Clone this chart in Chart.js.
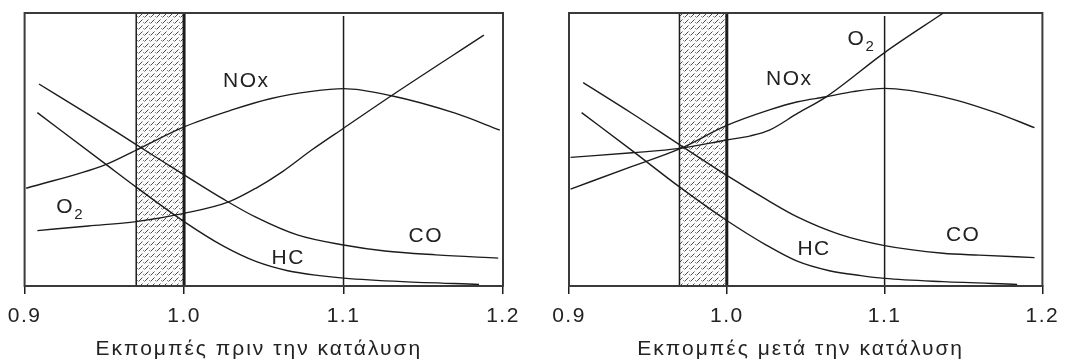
<!DOCTYPE html>
<html>
<head>
<meta charset="utf-8">
<script src="https://cdn.jsdelivr.net/npm/chart.js@4.4.1/dist/chart.umd.min.js"></script>
<style>
  html, body { margin: 0; padding: 0; background: #fff; }
  #wrap { position: relative; width: 1067px; height: 360px; overflow: hidden; }
  canvas { position: absolute; top: 0; }
  #before { left: 0; }
  #after { left: 534px; }
</style>
</head>
<body>
<div id="wrap">
  <canvas id="before" width="533" height="360"></canvas>
  <canvas id="after" width="533" height="360"></canvas>
</div>
<script>
// x axis: lambda
const xTicks = [0.9, 1.0, 1.1, 1.2];
const bandRange = [0.97, 1.0];
const markLine = 1.1;

// emissions before the catalyst
const coBeforeX  = [0.909, 0.940, 0.970, 1.000, 1.025, 1.045, 1.071, 1.100, 1.126, 1.158, 1.197];
const coBeforeY  = [74.0, 62.9, 51.8, 40.7, 31.7, 25.2, 18.7, 15.0, 12.8, 11.4, 10.2];
const hcBeforeX  = [0.908, 0.950, 0.970, 1.000, 1.025, 1.045, 1.065, 1.085, 1.100, 1.137, 1.185];
const hcBeforeY  = [63.5, 45.0, 36.2, 23.6, 14.5, 9.0, 5.6, 3.8, 2.9, 1.6, 0.6];
const noxBeforeX = [0.901, 0.950, 0.970, 1.000, 1.030, 1.054, 1.080, 1.100, 1.130, 1.170, 1.198];
const noxBeforeY = [35.8, 44.3, 49.8, 58.3, 64.5, 68.6, 71.3, 72.3, 69.7, 63.3, 57.1];
const o2BeforeX  = [0.908, 0.940, 0.970, 1.000, 1.028, 1.045, 1.062, 1.080, 1.100, 1.130, 1.188];
const o2BeforeY  = [20.3, 22.0, 23.6, 26.6, 30.8, 35.8, 42.0, 49.8, 57.8, 69.7, 91.9];

// emissions after the catalyst
const coAfterX  = [0.909, 0.940, 0.970, 1.000, 1.025, 1.045, 1.071, 1.100, 1.137, 1.160, 1.195];
const coAfterY  = [74.5, 63.2, 51.8, 40.5, 31.7, 25.2, 19.0, 14.8, 12.0, 11.3, 10.4];
const hcAfterX  = [0.908, 0.940, 0.970, 1.000, 1.025, 1.045, 1.065, 1.085, 1.100, 1.137, 1.184];
const hcAfterY  = [63.5, 49.6, 36.3, 24.0, 15.0, 9.0, 5.6, 3.8, 2.8, 1.6, 0.6];
const noxAfterX = [0.901, 0.940, 0.970, 1.000, 1.027, 1.045, 1.063, 1.080, 1.100, 1.137, 1.169, 1.195];
const noxAfterY = [35.5, 43.8, 50.2, 58.8, 64.5, 67.5, 69.3, 71.2, 72.4, 69.3, 63.8, 58.0];
const o2AfterX  = [0.901, 0.940, 0.970, 1.000, 1.015, 1.027, 1.045, 1.063, 1.100, 1.137];
const o2AfterY  = [47.1, 48.8, 50.4, 53.5, 55.0, 57.1, 63.3, 69.3, 85.5, 99.9];

const FONT = "'Liberation Sans', Arial, sans-serif";
const INK = '#1c1c1c';

function hatchPattern(ctx) {
  const c = document.createElement('canvas');
  c.width = 6; c.height = 6;
  const g = c.getContext('2d');
  g.fillStyle = '#fbfbfb';
  g.fillRect(0, 0, 6, 6);
  g.strokeStyle = '#4c4c4c';
  g.lineWidth = 1;
  g.beginPath();
  g.moveTo(0.5, 5.5); g.lineTo(4.5, 1.5);
  g.stroke();
  g.fillStyle = '#8a8a8a';
  g.fillRect(5, 4, 1, 1);
  return ctx.createPattern(c, 'repeat');
}

// hatched band, 1.1 line, frame, curve labels and axis title
const overlay = {
  id: 'overlay',
  beforeDraw(chart) {
    chart.ctx.letterSpacing = '1.5px';
  },
  beforeDatasetsDraw(chart) {
    const { ctx, chartArea: a, scales: { x } } = chart;
    const x0 = x.getPixelForValue(bandRange[0]);
    const x1 = x.getPixelForValue(bandRange[1]);
    const xm = x.getPixelForValue(markLine);
    ctx.save();
    ctx.fillStyle = hatchPattern(ctx);
    ctx.fillRect(x0, a.top, x1 - x0, a.bottom - a.top);
    ctx.strokeStyle = INK;
    ctx.lineWidth = 1.5;
    ctx.beginPath();
    ctx.moveTo(x0, a.top); ctx.lineTo(x0, a.bottom);
    ctx.moveTo(xm, a.top + 3); ctx.lineTo(xm, a.bottom);
    ctx.stroke();
    ctx.lineWidth = 3;
    ctx.beginPath();
    ctx.moveTo(x1, a.top); ctx.lineTo(x1, a.bottom);
    ctx.stroke();
    ctx.strokeStyle = '#3a3a3a';
    ctx.lineWidth = 2;
    ctx.strokeRect(a.left, a.top, a.right - a.left, a.bottom - a.top);
    ctx.restore();
  },
  afterDatasetsDraw(chart, args, opts) {
    const { ctx, scales: { x, y } } = chart;
    ctx.save();
    ctx.fillStyle = '#222';
    ctx.textAlign = 'center';
    ctx.textBaseline = 'middle';
    (opts.labels || []).forEach(l => {
      const px = x.getPixelForValue(l.x), py = y.getPixelForValue(l.y);
      ctx.font = '21px ' + FONT;
      ctx.fillText(l.text, px, py);
      if (l.sub) {
        const w = ctx.measureText(l.text).width;
        ctx.font = '15px ' + FONT;
        ctx.textAlign = 'left';
        ctx.fillText(l.sub, px + w / 2, py + 8);
        ctx.textAlign = 'center';
      }
    });
    ctx.restore();
  },
  afterDraw(chart, args, opts) {
    const { ctx, chartArea: a } = chart;
    ctx.save();
    ctx.letterSpacing = '2px';
    ctx.font = '21px ' + FONT;
    ctx.fillStyle = '#222';
    ctx.textAlign = 'center';
    ctx.textBaseline = 'alphabetic';
    ctx.fillText(opts.title, (a.left + a.right) / 2 - 5, 355);
    ctx.restore();
  }
};

function series(xs, ys) {
  return {
    data: xs.map((v, i) => ({ x: v, y: ys[i] })),
    borderColor: INK,
    borderWidth: 1.4,
    pointRadius: 0,
    fill: false,
    cubicInterpolationMode: 'monotone'
  };
}

function makeChart(id, datasets, labels, title, padLeft, padRight) {
  return new Chart(document.getElementById(id), {
    type: 'line',
    data: { datasets },
    options: {
      responsive: false,
      animation: false,
      devicePixelRatio: 1,
      layout: { padding: { left: padLeft, right: padRight, top: 13, bottom: 0 } },
      plugins: {
        legend: { display: false },
        tooltip: { enabled: false },
        overlay: { labels, title }
      },
      scales: {
        x: {
          type: 'linear',
          min: 0.9,
          max: 1.2,
          afterBuildTicks: s => { s.ticks = xTicks.map(v => ({ value: v })); },
          afterFit: s => { s.height = 74; },
          grid: { display: true, drawOnChartArea: false, drawTicks: true, tickLength: 8, color: INK, lineWidth: 1.5 },
          border: { display: true, color: '#3a3a3a', width: 2 },
          ticks: { font: { family: FONT, size: 21 }, color: '#222', padding: 10, maxRotation: 0, callback: v => v.toFixed(1) },
          title: { display: false }
        },
        y: { display: false, min: 0, max: 100 }
      }
    },
    plugins: [overlay]
  });
}

makeChart('before', [
  series(coBeforeX, coBeforeY),
  series(hcBeforeX, hcBeforeY),
  series(noxBeforeX, noxBeforeY),
  series(o2BeforeX, o2BeforeY)
], [
  { text: 'NOx', x: 1.039, y: 75.1 },
  { text: 'O', sub: '2', x: 0.9255, y: 28.9 },
  { text: 'CO', x: 1.1516, y: 18.1 },
  { text: 'HC', x: 1.0653, y: 10.3 }
], 'Εκπομπές πριν την κατάλυση', 22, 30);

makeChart('after', [
  series(coAfterX, coAfterY),
  series(hcAfterX, hcAfterY),
  series(noxAfterX, noxAfterY),
  series(o2AfterX, o2AfterY)
], [
  { text: 'O', sub: '2', x: 1.0822, y: 90.5 },
  { text: 'NOx', x: 1.0396, y: 75.8 },
  { text: 'HC', x: 1.0553, y: 13.6 },
  { text: 'CO', x: 1.1498, y: 18.7 }
], 'Εκπομπές μετά την κατάλυση', 35, 19);
</script>
</body>
</html>
